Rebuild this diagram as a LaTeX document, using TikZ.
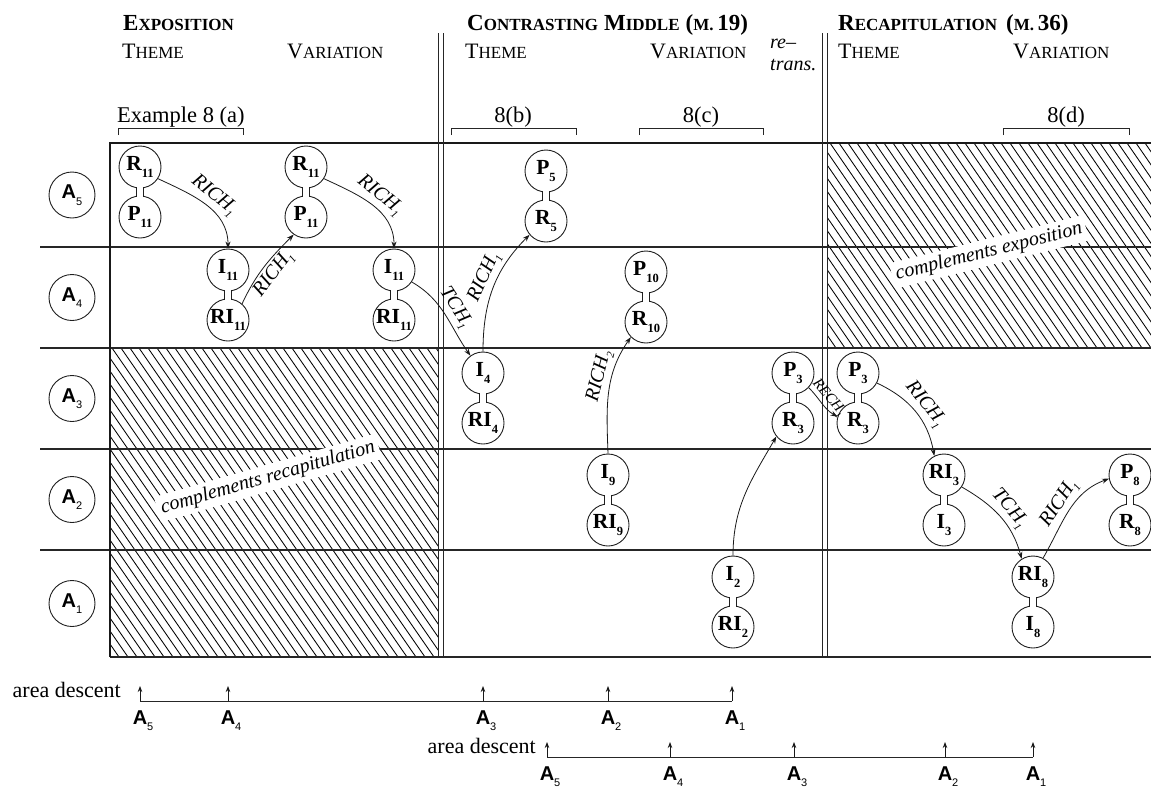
\documentclass[tikz,border=0pt]{standalone}
\usepackage{fontspec}
\setmainfont{Liberation Serif}
\newfontfamily\lblsans{Liberation Sans}
\usetikzlibrary{arrows.meta}

\newcommand\fs[1]{\fontsize{#1}{#1}\selectfont}
% simulated small caps (large initial, reduced capitals)
\newcommand\hsc[2]{{\fs{22}#1}{\fs{17}#2}}
\newcommand\hscb[2]{{\fs{23}\bfseries #1}{\fs{17}\bfseries #2}}
\newcommand\hgap{\hspace{6pt}}
% row form inside a circle: bold letter(s) with lowered index
\newcommand\nlab[2]{{\fs{21.5}\bfseries #1}\raisebox{-7.5pt}{\fs{12.5}\bfseries #2}}
% transformation label on an arrow
\newcommand\rlab[2]{{\fs{20}\itshape #1}\raisebox{-5pt}{\fs{11}\itshape #2}}
\newcommand\rlabs[2]{{\fs{15}\itshape #1}\raisebox{-4pt}{\fs{9}\itshape #2}}
% area labels
\newcommand\alab[1]{{\lblsans\fs{20}\bfseries A}\raisebox{-6.5pt}{\lblsans\fs{11}#1}}
\newcommand\blab[1]{{\lblsans\fs{20}\bfseries A}\rlap{\raisebox{-6.5pt}{\lblsans\fs{11}#1}}}

\tikzset{
  state/.style={circle, draw=black!88, line width=0.9pt, minimum size=42pt,
    inner sep=0pt, fill=white},
  areacirc/.style={circle, draw=black!88, line width=0.9pt, minimum size=46pt,
    inner sep=0pt},
  gridline/.style={draw=black!85, line width=1.1pt},
  rule/.style={draw=black!85, line width=0.9pt},
  neck/.style={draw=black!88, line width=0.9pt},
  hatchline/.style={draw=black, line width=0.85pt},
  arr/.style={draw=black!90, line width=0.8pt, -{Stealth[length=7pt,width=5pt]}},
  tinyarr/.style={draw=black!90, line width=0.8pt, -{Stealth[length=6pt,width=4.5pt]}},
  arrlbl/.style={sloped, inner sep=2.5pt},
  blank/.style={fill=white, inner sep=4pt, font=\fs{20}\itshape},
  txt/.style={inner sep=0pt, anchor=base west},
}

% two linked circles: top name, bottom name, x, y of top, labels
\newcommand\dbl[6]{%
  \node[state] (#1) at (#3,#4) {#5};
  \node[state] (#2) at (#3,#4+50) {#6};
  \fill[white] (#3-3.1,#4+17) rectangle (#3+3.1,#4+33);
  \draw[neck] (#3-3.5,#4+20.6) -- (#3-3.5,#4+29.4)
              (#3+3.5,#4+20.6) -- (#3+3.5,#4+29.4);
}

\begin{document}
\begin{tikzpicture}[x=1pt,y=-1pt]
\useasboundingbox (0,0) rectangle (1151,790);

% ---------- hatched regions ----------
\begin{scope}
  \clip (110,348) rectangle (438,657);
  \foreach \k in {0,...,62} \draw[hatchline] ({-104+\k*9},348) -- ++(214,309);
\end{scope}
\begin{scope}
  \clip (827,143) rectangle (1151,348);
  \foreach \k in {0,...,53} \draw[hatchline] ({686+\k*9},143) -- ++(141,205);
\end{scope}

% ---------- grid ----------
\foreach \y in {247,348,449,550} \draw[gridline] (40,\y) -- (1151,\y);
\draw[draw=black!85, line width=1.4pt] (110,657) -- (1151,657);
\draw[draw=black!90, line width=1.5pt] (110,143) -- (110,657);
\draw[draw=black!90, line width=2pt] (109.25,143) -- (1151,143);
\foreach \x in {438,443,822,827} \draw[rule] (\x,33) -- (\x,657);

\node[blank, rotate=16] (crec) at (268,478) {complements recapitulation};
\node[blank, rotate=14] (cexp) at (989,252) {complements exposition};

% ---------- headings ----------
\node[txt] (hexp) at (123,30) {\hscb{E}{XPOSITION}};
\node[txt] (hcon) at (467,30) {\hscb{C}{ONTRASTING}\hgap\hscb{M}{IDDLE}\hgap{\fs{23}\bfseries (}{\fs{17}\bfseries M.}{\fs{23}\bfseries\,19)}};
\node[txt] (hrec) at (838,30) {\hscb{R}{ECAPITULATION}\hspace{9pt}{\fs{23}\bfseries (}{\fs{17}\bfseries M.}{\fs{23}\bfseries\,36)}};

\node[txt] (th1) at (122,58) {\hsc{T}{HEME}};
\node[txt] (va1) at (287,58) {\hsc{V}{ARIATION}};
\node[txt] (th2) at (465,58) {\hsc{T}{HEME}};
\node[txt] (va2) at (650,58) {\hsc{V}{ARIATION}};
\node[txt] (th3) at (838,58) {\hsc{T}{HEME}};
\node[txt] (va3) at (1013,58) {\hsc{V}{ARIATION}};
\node[txt, font=\fs{20}\itshape] (rt1) at (770,48) {re–};
\node[txt, font=\fs{20}\itshape] (rt2) at (770,70) {trans.};

% ---------- example brackets ----------
\node[txt, font=\fs{22.5}] (exa) at (117,122) {Example 8 (a)};
\draw[rule] (118,135) -- (118,128) -- (243,128) -- (243,135);
\node[inner sep=0pt, anchor=base, font=\fs{22.5}] (exb) at (513,122) {8(b)};
\draw[rule] (451,135) -- (451,128) -- (576,128) -- (576,135);
\node[inner sep=0pt, anchor=base, font=\fs{22.5}] (exc) at (701,122) {8(c)};
\draw[rule] (639,135) -- (639,128) -- (763,128) -- (763,135);
\node[inner sep=0pt, anchor=base, font=\fs{22.5}] (exd) at (1066,122) {8(d)};
\draw[rule] (1003,135) -- (1003,128) -- (1129,128) -- (1129,135);

% ---------- area circles ----------
\node[areacirc] (A5) at (72,195) {\alab{5}};
\node[areacirc] (A4) at (72,297.5) {\alab{4}};
\node[areacirc] (A3) at (72,398.5) {\alab{3}};
\node[areacirc] (A2) at (72,499.5) {\alab{2}};
\node[areacirc] (A1) at (72,603.5) {\alab{1}};

% ---------- row forms ----------
\dbl{R11a}{P11a}{140}{167}{\nlab{R}{11}}{\nlab{P}{11}}
\dbl{I11a}{RI11a}{228}{270}{\nlab{I}{11}}{\nlab{RI}{11}}
\dbl{R11b}{P11b}{306}{167}{\nlab{R}{11}}{\nlab{P}{11}}
\dbl{I11b}{RI11b}{394}{270}{\nlab{I}{11}}{\nlab{RI}{11}}
\dbl{P5}{R5}{546}{171}{\nlab{P}{5}}{\nlab{R}{5}}
\dbl{I4}{RI4}{483}{373}{\nlab{I}{4}}{\nlab{RI}{4}}
\dbl{P10}{R10}{646}{272}{\nlab{P}{10}}{\nlab{R}{10}}
\dbl{I9}{RI9}{608}{475}{\nlab{I}{9}}{\nlab{RI}{9}}
\dbl{I2}{RI2}{733}{577}{\nlab{I}{2}}{\nlab{RI}{2}}
\dbl{P3a}{R3a}{793}{373}{\nlab{P}{3}}{\nlab{R}{3}}
\dbl{P3b}{R3b}{858}{373}{\nlab{P}{3}}{\nlab{R}{3}}
\dbl{RI3}{I3}{944}{475}{\nlab{RI}{3}}{\nlab{I}{3}}
\dbl{P8}{R8}{1130}{475}{\nlab{P}{8}}{\nlab{R}{8}}
\dbl{RI8}{I8}{1033}{577}{\nlab{RI}{8}}{\nlab{I}{8}}

% ---------- transformations ----------
\draw[arr] (R11a.-33) to[out=-25,in=90] node[arrlbl,above]{\rlab{RICH}{1}} (I11a.north);
\draw[arr] (RI11a.49) to[out=65,in=-135] node[arrlbl,below]{\rlab{RICH}{1}} (P11b.-125);
\draw[arr] (R11b.-33) to[out=-25,in=90] node[arrlbl,above]{\rlab{RICH}{1}} (I11b.north);
\draw[arr] (I11b.-34) to[out=-30,in=125] node[arrlbl,above]{\rlab{TCH}{1}} (I4.126);
\draw[arr] (I4.north) to[out=90,in=-135] node[arrlbl,above,pos=0.55]{\rlab{RICH}{1}} (R5.-140);
\draw[arr] (I9.north) to[out=92,in=-125] node[arrlbl,above,pos=0.62]{\rlab{RICH}{2}} (R10.-135);
\draw[arr] (I2.north) to[out=90,in=-120] (R3a.-141);
\draw[arr] (P3a.-43) to[out=-45,in=150] node[arrlbl,above,inner sep=1pt]{\rlabs{RECH}{1}} (R3b.163);
\draw[arr] (P3b.-28) to[out=-25,in=100] node[arrlbl,above]{\rlab{RICH}{1}} (RI3.117);
\draw[arr] (RI3.-34) to[out=-30,in=105] node[arrlbl,above]{\rlab{TCH}{1}} (RI8.122);
\draw[arr] (RI8.62) to[out=60,in=200] node[arrlbl,above]{\rlab{RICH}{1}} (P8.190);

% ---------- area descent lines ----------
\node[inner sep=0pt, anchor=base east, font=\fs{22}] (ad1) at (121,697) {area descent};
\draw[rule] (140,701) -- (732,701);
\foreach \x/\n in {140/5,228/4,483/3,608/2,732/1} {
  \coordinate (u\n) at (\x,701);
  \coordinate (t\n) at (\x,686);
  \draw[tinyarr] (u\n) -- (t\n);
  \node[inner sep=0pt, anchor=base] (b\n) at (\x,724) {\blab{\n}};
}
\node[inner sep=0pt, anchor=base east, font=\fs{22}] (ad2) at (536,753) {area descent};
\draw[rule] (547,757) -- (1033,757);
\foreach \x/\n in {547/5,670/4,794/3,945/2,1033/1} {
  \coordinate (v\n) at (\x,757);
  \coordinate (s\n) at (\x,742);
  \draw[tinyarr] (v\n) -- (s\n);
  \node[inner sep=0pt, anchor=base] (c\n) at (\x,780) {\blab{\n}};
}
\end{tikzpicture}
\end{document}
